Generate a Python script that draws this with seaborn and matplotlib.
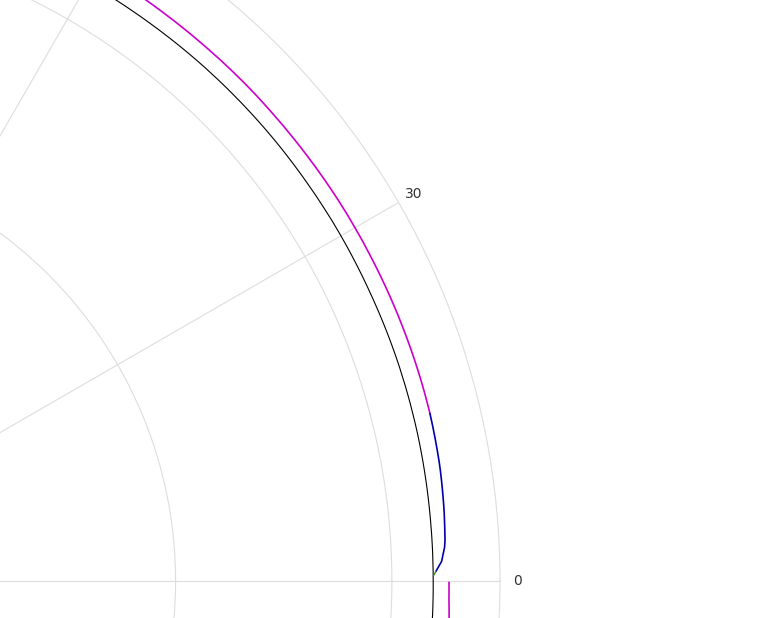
import numpy as np
import pandas as pd
import matplotlib
matplotlib.use('Agg')
import matplotlib.pyplot as plt
import seaborn as sns

# Traces (theta in degrees, r in radial units)
black_theta = [-5.0, -3.0, 0.0, 6.1, 12.6, 18.7, 24.7, 30.2, 35.2, 40.0, 43.1, 48.6, 53.9, 57.3, 62.0]
black_r = [31.92, 31.92, 31.91, 31.91, 31.92, 31.92, 31.91, 31.92, 31.92, 31.93, 31.93, 31.93, 31.92, 31.92, 31.92]

magenta_theta = [13.7, 15.9, 21.7, 27.3, 32.4, 36.9, 41.2, 44.3, 49.6, 53.2, 55.2, 62.0]
magenta_r = [32.69, 32.69, 32.68, 32.67, 32.67, 32.66, 32.66, 32.67, 32.67, 32.68, 32.69, 32.70]

blue_theta = [13.7, 9.3, 5.9, 3.3, 2.8, 2.1, 1.6, 0.8]
blue_r = [32.69, 32.65, 32.58, 32.51, 32.48, 32.38, 32.31, 32.04]

green_theta = [0.8, 0.4]
green_r = [32.04, 31.91]

magenta2_theta = [-0.1, -1.5, -3.0, -4.5]
magenta2_r = [32.64, 32.65, 32.69, 32.74]

theta_ticks = list(range(0, 360, 30))
# only the 0 and 30 labels fall inside the picture
theta_labels = ['0', '30'] + [''] * (len(theta_ticks) - 2)
r_ticks = [10, 20, 30]
r_max = 35

sns.set_style('whitegrid')

fig = plt.figure(figsize=(7.58, 6.18), dpi=100)
# polar axes is much bigger than the figure, only the upper right part shows
ax = fig.add_axes([-1.3377, -1.1650, 1.9974, 2.4498], projection='polar')

traces = [
    (black_theta, black_r, 'black', 0.8),
    (magenta_theta, magenta_r, '#cc00cc', 1.2),
    (blue_theta, blue_r, '#0000aa', 1.2),
    (green_theta, green_r, '#2e8b2e', 1.0),
    (magenta2_theta, magenta2_r, '#cc00cc', 1.2),
]
for th, rr, col, lw in traces:
    df = pd.DataFrame({'theta': np.deg2rad(th), 'r': rr})
    sns.lineplot(data=df, x='theta', y='r', ax=ax, sort=False, estimator=None,
                 color=col, linewidth=lw)

# let the polar transform bend each segment instead of drawing chords
for line in ax.lines:
    line.get_path()._interpolation_steps = 40

ax.set_xlabel('')
ax.set_ylabel('')
ax.set_rlim(0, r_max)
ax.set_rgrids(r_ticks, labels=[])
ax.set_thetagrids(theta_ticks, labels=theta_labels)
ax.tick_params(axis='x', labelsize=10, colors='#333333', pad=2)
ax.grid(True, color='#dddddd', linewidth=0.8)
ax.spines['polar'].set_color('#dddddd')
ax.spines['polar'].set_linewidth(0.8)

fig.savefig('out.png', dpi=100)
